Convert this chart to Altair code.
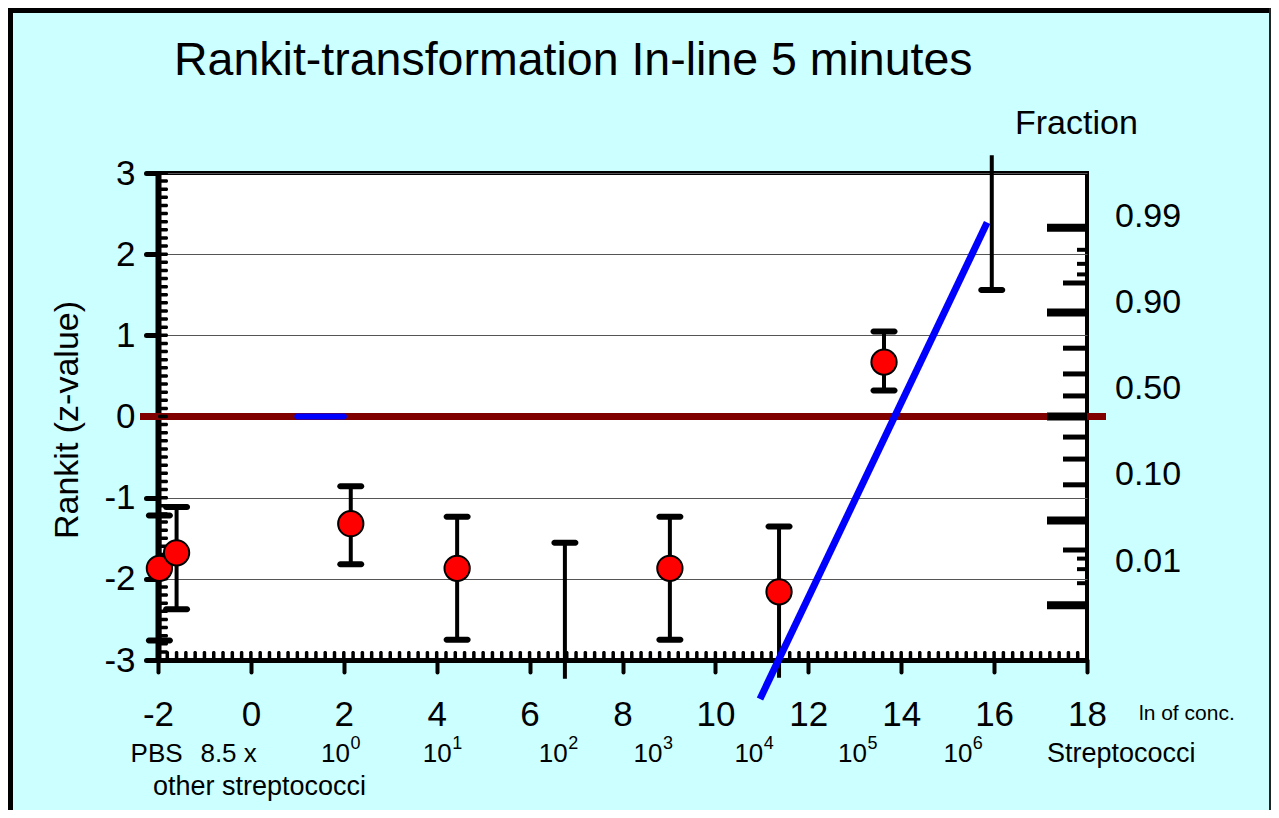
import altair as alt
import pandas as pd
from statistics import NormalDist

FONT = "Liberation Sans"

# ---- data ----
pt_x = [-1.97, -1.6, 2.15, 4.44, 9.02, 11.37, 13.63]
pt_y = [-1.87, -1.68, -1.32, -1.87, -1.87, -2.16, 0.67]

bar_x = [-1.97, -1.6, 2.15, 4.44, 6.76, 9.02, 11.37, 13.63, 15.95]
bar_lo = [-2.76, -2.375, -1.82, -2.75, -3.23, -2.75, -3.22, 0.32, 1.56]
bar_hi = [-1.22, -1.115, -0.86, -1.235, -1.555, -1.235, -1.355, 1.048, 3.22]

fit_x = [10.96, 15.85]
fit_y = [-3.48, 2.39]
seg_x = [1.0, 2.0]
seg_y = [0.0, 0.0]

x_ticks = list(range(-2, 19, 2))
y_ticks = list(range(-3, 4))
y_minor = [round(-3 + 0.1 * i, 1) for i in range(61)]
x_minor = [round(-2 + 0.2 * i, 1) for i in range(101)]

frac_major = [0.01, 0.10, 0.50, 0.90, 0.99]
frac_mid = [0.05, 0.2, 0.3, 0.4, 0.6, 0.7, 0.8, 0.95]
frac_minor = [0.02, 0.03, 0.04, 0.96, 0.97, 0.98]
frac_labels = ["0.99", "0.90", "0.50", "0.10", "0.01"]

conc_text = ["PBS", "8.5 x"]
conc_text_x = [-2.03, -0.48]
pow_x = [1.82, 4.01, 6.51, 8.55, 10.72, 12.95, 15.22]
pow_exp = ["0", "1", "2", "3", "4", "5", "6"]

W, H = 929, 487
PL, PT = 150, 165
TW, TH = 1263, 802

xs = alt.Scale(domain=[-2, 18], nice=False, zero=False)
ys = alt.Scale(domain=[-3, 3], nice=False, zero=False)

XA = alt.Axis(
    values=x_ticks, labelExpr="toString(datum.value)", title=None, grid=False,
    labelFont=FONT, labelFontSize=35, labelColor="black", labelBaseline="alphabetic",
    labelPadding=53, tickSize=12, tickWidth=4, tickColor="black", tickCap="round",
    domainColor="black", domainWidth=5, labelFlush=False, labelOverlap=False)
YA = alt.Axis(
    values=y_ticks, labelExpr="toString(datum.value)", title=None, grid=True,
    gridColor="#555555", gridWidth=1,
    labelFont=FONT, labelFontSize=35, labelColor="black", labelPadding=11,
    tickSize=12, tickWidth=5, tickColor="black", tickCap="round",
    domainColor="black", domainWidth=6, labelFlush=False, labelOverlap=False)


def X(f):
    return alt.X(f, scale=xs, axis=XA)


def Y(f):
    return alt.Y(f, scale=ys, axis=YA)


nd = NormalDist()

zero_line = alt.Chart(pd.DataFrame({"y": [0]})).mark_rule(color="#800000", strokeWidth=7).encode(
    y=Y("y:Q"), x=alt.value(-18), x2=alt.value(W + 19))


def right_ticks(fracs, length, thick):
    df = pd.DataFrame({"z": [nd.inv_cdf(f) for f in fracs], "x": [18] * len(fracs)})
    return alt.Chart(df).mark_tick(orient="horizontal", size=length, thickness=thick,
                                   xOffset=-length / 2, color="black", opacity=1).encode(
        x=X("x:Q"), y=Y("z:Q"))


rt1 = right_ticks(frac_major, 40, 8)
rt2 = right_ticks(frac_mid, 24, 5)
rt3 = right_ticks(frac_minor, 10, 4)

left_minor = alt.Chart(pd.DataFrame({"y": y_minor, "x": [-2] * len(y_minor)})).mark_tick(
    orient="horizontal", size=10, thickness=3.5, xOffset=5, cornerRadius=1.5,
    color="black", opacity=1).encode(x=X("x:Q"), y=Y("y:Q"))

bottom_minor = alt.Chart(pd.DataFrame({"x": x_minor, "y": [-3] * len(x_minor)})).mark_tick(
    orient="vertical", size=9, thickness=3.5, yOffset=-4.5, cornerRadius=1.5,
    color="black", opacity=1).encode(x=X("x:Q"), y=Y("y:Q"))

bars_df = pd.DataFrame({"x": bar_x, "lo": bar_lo, "hi": bar_hi})
bars = alt.Chart(bars_df).mark_rule(color="black", strokeWidth=4).encode(
    x=X("x:Q"), y=Y("lo:Q"), y2="hi:Q")

caps_df = pd.DataFrame({"x": bar_x + bar_x, "v": bar_lo + bar_hi})
caps = alt.Chart(caps_df).transform_filter("datum.v >= -3 && datum.v <= 3").mark_tick(
    orient="horizontal", size=27, thickness=6, cornerRadius=3, color="black", opacity=1).encode(
    x=X("x:Q"), y=Y("v:Q"))

pts = alt.Chart(pd.DataFrame({"x": pt_x, "y": pt_y})).mark_circle(
    size=640, color="#FF0000", stroke="black", strokeWidth=2, opacity=1).encode(
    x=X("x:Q"), y=Y("y:Q"))

seg = alt.Chart(pd.DataFrame({"x": seg_x, "y": seg_y})).mark_line(
    color="#0000FF", strokeWidth=6, strokeCap="round").encode(
    x=X("x:Q"), y=Y("y:Q"))

fit = alt.Chart(pd.DataFrame({"x": fit_x, "y": fit_y})).mark_line(
    color="#0000FF", strokeWidth=7, strokeCap="butt").encode(
    x=X("x:Q"), y=Y("y:Q"))


def label(text, x, y, size, align="left", baseline="alphabetic", angle=0):
    return alt.Chart(pd.DataFrame({"t": [text]})).mark_text(
        font=FONT, fontSize=size, align=align, baseline=baseline, angle=angle, color="black").encode(
        x=alt.value(x), y=alt.value(y), text="t:N")


texts = [
    label("Rankit-transformation In-line 5 minutes", 16, -98, 46.5),
    label("Fraction", 857, -39, 34),
    label("Rankit (z-value)", -90, 247, 34, align="center", baseline="middle", angle=270),
    label("ln of conc.", 981, 547, 21),
    label("Streptococci", 889, 589, 27),
    label("other streptococci", -5, 622, 27),
]
for i, t in enumerate(frac_labels):
    texts.append(label(t, 957, 43.5 + i * 86.3, 34, baseline="middle"))

conc = alt.Chart(pd.DataFrame({"t": conc_text, "x": conc_text_x})).mark_text(
    font=FONT, fontSize=26, align="center", baseline="alphabetic", color="black").encode(
    x=X("x:Q"), y=alt.value(589), text="t:N")

pow_df = pd.DataFrame({"x": pow_x, "e": pow_exp, "b": ["10"] * len(pow_x)})
pow_base = alt.Chart(pow_df).mark_text(
    font=FONT, fontSize=26, align="center", baseline="alphabetic", color="black").encode(
    x=X("x:Q"), y=alt.value(589), text="b:N")
pow_sup = alt.Chart(pow_df).mark_text(
    font=FONT, fontSize=18, align="left", baseline="alphabetic", dx=15, color="black").encode(
    x=X("x:Q"), y=alt.value(576), text="e:N")

one = pd.DataFrame({"a": [0]})
border_left = alt.Chart(one).mark_rule(color="black", strokeWidth=5).encode(
    x=alt.value(-PL + 2.5), y=alt.value(-PT), y2=alt.value(TH - PT))
border_top = alt.Chart(one).mark_rule(color="black", strokeWidth=5).encode(
    y=alt.value(-PT + 2.5), x=alt.value(-PL), x2=alt.value(TW - PL))
border_right = alt.Chart(one).mark_rule(color="#222222", strokeWidth=2).encode(
    x=alt.value(TW - PL - 1), y=alt.value(-PT), y2=alt.value(TH - PT))

chart = alt.layer(
    zero_line, rt1, rt2, rt3, left_minor, bottom_minor, bars, caps, pts, seg, fit,
    conc, pow_base, pow_sup, *texts, border_left, border_top, border_right
).properties(
    width=W, height=H,
    padding={"left": PL, "top": PT, "right": TW - PL - W, "bottom": TH - PT - H},
    autosize=alt.AutoSizeParams(type="none"),
    background="#CCFFFF",
).configure_view(fill="white", stroke="black", strokeWidth=4)

chart.save("out.html", embed_options={"renderer": "svg", "actions": False})
